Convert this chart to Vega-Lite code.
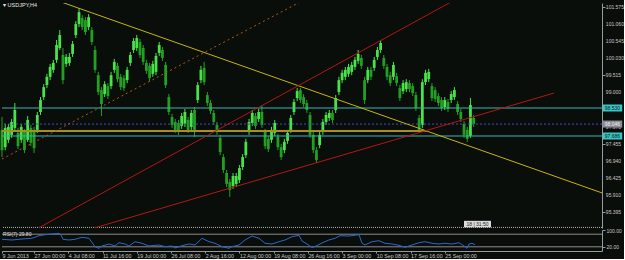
{
"$schema": "https://vega.github.io/schema/vega-lite/v6.json",
"background": "#0a0e0a",
"padding": {"left": 0, "top": 3, "right": 0, "bottom": 0},
"spacing": 2,
"bounds": "flush",
"config": {"view": {"stroke": null}, "axis": {"grid": false, "labelFont": "Liberation Sans", "labelFontSize": 5.3, "labelColor": "#c8c8c8", "domainColor": "#9a9a9a", "tickColor": "#9a9a9a", "tickSize": 3, "labelPadding": 1, "title": null, "labelOverlap": false, "labelBound": false, "labelFlush": false}},
"datasets": {
"candles": [
{"i":0,"o":97.87,"h":98.26,"l":97.05,"c":97.26},
{"i":3,"o":97.35,"h":98.05,"l":97.26,"c":97.93},
{"i":6,"o":97.57,"h":98.05,"l":97.48,"c":97.96},
{"i":9,"o":97.72,"h":98.20,"l":97.63,"c":98.11},
{"i":12,"o":97.93,"h":98.68,"l":97.84,"c":98.47},
{"i":15,"o":97.78,"h":97.93,"l":97.29,"c":97.38},
{"i":18,"o":97.57,"h":98.05,"l":97.48,"c":97.96},
{"i":21,"o":97.81,"h":97.90,"l":97.17,"c":97.26},
{"i":24,"o":97.57,"h":98.29,"l":97.51,"c":98.17},
{"i":27,"o":97.93,"h":98.02,"l":97.38,"c":97.48},
{"i":30,"o":97.87,"h":97.96,"l":97.17,"c":97.32},
{"i":33,"o":97.87,"h":98.41,"l":97.78,"c":98.32},
{"i":36,"o":98.41,"h":98.86,"l":98.32,"c":98.77},
{"i":39,"o":98.86,"h":99.25,"l":98.77,"c":99.16},
{"i":42,"o":99.22,"h":99.56,"l":99.13,"c":99.47},
{"i":45,"o":99.47,"h":99.86,"l":99.37,"c":99.77},
{"i":48,"o":99.68,"h":99.98,"l":99.59,"c":99.89},
{"i":51,"o":99.98,"h":100.58,"l":99.89,"c":100.43},
{"i":54,"o":100.34,"h":100.88,"l":100.28,"c":100.73},
{"i":57,"o":100.13,"h":100.34,"l":99.25,"c":99.37},
{"i":60,"o":99.86,"h":100.16,"l":99.77,"c":100.07},
{"i":63,"o":99.89,"h":100.19,"l":99.80,"c":100.07},
{"i":66,"o":100.16,"h":100.55,"l":100.07,"c":100.46},
{"i":69,"o":100.73,"h":101.15,"l":100.64,"c":101.06},
{"i":72,"o":101.06,"h":101.54,"l":100.97,"c":101.42},
{"i":75,"o":101.24,"h":101.33,"l":100.88,"c":100.97},
{"i":78,"o":101.18,"h":101.27,"l":100.73,"c":100.82},
{"i":81,"o":100.97,"h":101.36,"l":100.88,"c":101.27},
{"i":84,"o":100.88,"h":100.97,"l":100.43,"c":100.52},
{"i":87,"o":100.28,"h":100.40,"l":99.59,"c":99.68},
{"i":90,"o":99.52,"h":99.62,"l":98.92,"c":99.01},
{"i":93,"o":99.07,"h":99.16,"l":98.29,"c":98.65},
{"i":96,"o":98.95,"h":99.34,"l":98.86,"c":99.25},
{"i":99,"o":99.19,"h":99.28,"l":98.80,"c":98.89},
{"i":102,"o":99.19,"h":99.62,"l":99.10,"c":99.52},
{"i":105,"o":99.68,"h":100.01,"l":99.59,"c":99.92},
{"i":108,"o":99.80,"h":99.89,"l":99.31,"c":99.40},
{"i":111,"o":99.47,"h":99.56,"l":99.07,"c":99.16},
{"i":114,"o":99.43,"h":99.52,"l":99.04,"c":99.13},
{"i":117,"o":99.37,"h":99.77,"l":99.28,"c":99.68},
{"i":120,"o":99.89,"h":100.22,"l":99.80,"c":100.13},
{"i":123,"o":100.28,"h":100.64,"l":100.19,"c":100.55},
{"i":126,"o":100.34,"h":100.73,"l":100.25,"c":100.64},
{"i":129,"o":100.52,"h":100.61,"l":100.04,"c":100.13},
{"i":132,"o":100.34,"h":100.43,"l":99.83,"c":99.92},
{"i":135,"o":99.89,"h":99.98,"l":99.56,"c":99.65},
{"i":138,"o":99.80,"h":99.89,"l":99.34,"c":99.43},
{"i":141,"o":99.56,"h":99.95,"l":99.47,"c":99.86},
{"i":144,"o":99.62,"h":100.19,"l":99.52,"c":100.10},
{"i":147,"o":100.19,"h":100.52,"l":100.10,"c":100.43},
{"i":150,"o":100.28,"h":100.37,"l":99.95,"c":100.04},
{"i":153,"o":99.83,"h":99.92,"l":99.13,"c":99.22},
{"i":156,"o":98.86,"h":98.95,"l":98.32,"c":98.41},
{"i":159,"o":98.26,"h":98.35,"l":97.93,"c":98.02},
{"i":162,"o":98.11,"h":98.20,"l":97.78,"c":97.87},
{"i":165,"o":98.08,"h":98.17,"l":97.72,"c":97.81},
{"i":168,"o":97.99,"h":98.38,"l":97.90,"c":98.29},
{"i":171,"o":98.05,"h":98.50,"l":97.96,"c":98.41},
{"i":174,"o":98.17,"h":98.26,"l":97.78,"c":97.87},
{"i":177,"o":97.96,"h":98.47,"l":97.87,"c":98.38},
{"i":180,"o":98.47,"h":98.56,"l":97.66,"c":97.87},
{"i":183,"o":98.77,"h":99.31,"l":98.68,"c":99.22},
{"i":186,"o":99.37,"h":99.80,"l":99.28,"c":99.68},
{"i":189,"o":99.74,"h":99.92,"l":99.22,"c":99.31},
{"i":192,"o":98.92,"h":99.01,"l":98.59,"c":98.68},
{"i":195,"o":98.68,"h":98.77,"l":98.35,"c":98.44},
{"i":198,"o":98.38,"h":98.47,"l":98.02,"c":98.11},
{"i":201,"o":98.02,"h":98.11,"l":97.72,"c":97.81},
{"i":204,"o":97.63,"h":97.72,"l":97.11,"c":97.20},
{"i":207,"o":97.05,"h":97.14,"l":96.57,"c":96.66},
{"i":210,"o":96.57,"h":96.66,"l":96.15,"c":96.24},
{"i":213,"o":96.30,"h":96.39,"l":95.85,"c":96.06},
{"i":216,"o":96.18,"h":96.57,"l":96.09,"c":96.48},
{"i":219,"o":96.24,"h":96.57,"l":96.15,"c":96.48},
{"i":222,"o":96.36,"h":96.81,"l":96.27,"c":96.72},
{"i":225,"o":96.75,"h":97.14,"l":96.66,"c":97.05},
{"i":228,"o":97.11,"h":97.60,"l":97.02,"c":97.51},
{"i":231,"o":97.81,"h":98.20,"l":97.72,"c":98.11},
{"i":234,"o":98.08,"h":98.47,"l":97.99,"c":98.38},
{"i":237,"o":98.29,"h":98.38,"l":97.90,"c":97.99},
{"i":240,"o":98.20,"h":98.50,"l":98.11,"c":98.41},
{"i":243,"o":98.41,"h":98.62,"l":97.93,"c":98.02},
{"i":246,"o":97.81,"h":97.90,"l":97.29,"c":97.38},
{"i":249,"o":97.60,"h":97.69,"l":97.20,"c":97.29},
{"i":252,"o":97.57,"h":97.96,"l":97.48,"c":97.87},
{"i":255,"o":97.78,"h":98.17,"l":97.69,"c":98.08},
{"i":258,"o":97.66,"h":97.75,"l":97.26,"c":97.35},
{"i":261,"o":97.35,"h":97.45,"l":96.96,"c":97.05},
{"i":264,"o":97.26,"h":97.60,"l":97.17,"c":97.51},
{"i":267,"o":97.54,"h":97.87,"l":97.45,"c":97.78},
{"i":270,"o":97.87,"h":98.32,"l":97.78,"c":98.23},
{"i":273,"o":98.41,"h":98.80,"l":98.32,"c":98.71},
{"i":276,"o":98.83,"h":99.13,"l":98.74,"c":99.04},
{"i":279,"o":99.07,"h":99.13,"l":98.68,"c":98.77},
{"i":282,"o":98.86,"h":98.95,"l":98.56,"c":98.65},
{"i":285,"o":98.68,"h":98.77,"l":98.38,"c":98.47},
{"i":288,"o":98.32,"h":98.41,"l":97.63,"c":97.72},
{"i":291,"o":97.72,"h":97.81,"l":97.17,"c":97.26},
{"i":294,"o":97.26,"h":97.35,"l":96.87,"c":96.96},
{"i":297,"o":97.41,"h":97.81,"l":97.32,"c":97.72},
{"i":300,"o":97.81,"h":98.20,"l":97.72,"c":98.11},
{"i":303,"o":98.11,"h":98.41,"l":98.02,"c":98.32},
{"i":306,"o":98.23,"h":98.47,"l":98.14,"c":98.38},
{"i":309,"o":98.38,"h":98.47,"l":98.08,"c":98.17},
{"i":312,"o":98.47,"h":98.92,"l":98.38,"c":98.83},
{"i":315,"o":99.01,"h":99.47,"l":98.92,"c":99.37},
{"i":318,"o":99.37,"h":99.68,"l":99.28,"c":99.59},
{"i":321,"o":99.47,"h":99.77,"l":99.37,"c":99.68},
{"i":324,"o":99.56,"h":99.86,"l":99.47,"c":99.77},
{"i":327,"o":99.62,"h":99.92,"l":99.52,"c":99.83},
{"i":330,"o":99.77,"h":100.07,"l":99.68,"c":99.98},
{"i":333,"o":99.95,"h":100.28,"l":99.86,"c":100.16},
{"i":336,"o":100.04,"h":100.13,"l":99.71,"c":99.80},
{"i":339,"o":99.37,"h":99.47,"l":98.65,"c":98.77},
{"i":342,"o":99.37,"h":99.77,"l":99.28,"c":99.68},
{"i":345,"o":99.68,"h":99.77,"l":99.37,"c":99.47},
{"i":348,"o":99.74,"h":100.07,"l":99.65,"c":99.98},
{"i":351,"o":100.07,"h":100.37,"l":99.98,"c":100.28},
{"i":354,"o":100.28,"h":100.58,"l":100.19,"c":100.49},
{"i":357,"o":100.04,"h":100.13,"l":99.71,"c":99.80},
{"i":360,"o":99.77,"h":99.86,"l":99.37,"c":99.47},
{"i":363,"o":99.52,"h":99.62,"l":99.19,"c":99.28},
{"i":366,"o":99.47,"h":99.92,"l":99.37,"c":99.83},
{"i":369,"o":99.49,"h":99.59,"l":99.19,"c":99.28},
{"i":372,"o":99.13,"h":99.22,"l":98.74,"c":98.83},
{"i":375,"o":99.04,"h":99.37,"l":98.95,"c":99.28},
{"i":378,"o":99.10,"h":99.40,"l":99.01,"c":99.31},
{"i":381,"o":99.28,"h":99.37,"l":99.01,"c":99.10},
{"i":384,"o":99.19,"h":99.28,"l":98.89,"c":98.98},
{"i":387,"o":98.92,"h":99.01,"l":98.44,"c":98.53},
{"i":390,"o":98.23,"h":98.32,"l":97.84,"c":97.87},
{"i":393,"o":98.02,"h":99.40,"l":97.93,"c":99.31},
{"i":396,"o":99.31,"h":99.68,"l":99.22,"c":99.59},
{"i":399,"o":99.40,"h":99.71,"l":99.31,"c":99.62},
{"i":402,"o":99.19,"h":99.28,"l":98.74,"c":98.83},
{"i":405,"o":99.07,"h":99.16,"l":98.71,"c":98.80},
{"i":408,"o":98.89,"h":98.98,"l":98.59,"c":98.68},
{"i":411,"o":98.77,"h":98.86,"l":98.44,"c":98.53},
{"i":414,"o":98.56,"h":98.86,"l":98.47,"c":98.77},
{"i":417,"o":98.71,"h":98.80,"l":98.41,"c":98.50},
{"i":420,"o":98.77,"h":99.04,"l":98.68,"c":98.95},
{"i":423,"o":98.86,"h":99.16,"l":98.77,"c":99.07},
{"i":426,"o":98.65,"h":98.74,"l":98.32,"c":98.41},
{"i":429,"o":98.41,"h":98.50,"l":98.11,"c":98.20},
{"i":432,"o":98.05,"h":98.14,"l":97.63,"c":97.72},
{"i":435,"o":97.87,"h":97.96,"l":97.51,"c":97.60},
{"i":438,"o":97.69,"h":98.83,"l":97.63,"c":98.62},
{"i":441,"o":98.23,"h":98.32,"l":97.96,"c":98.05}
],
"rsi": [
{"i":0,"r":55.7},{"i":9.4,"r":52.4},{"i":18.7,"r":57.1},{"i":28,"r":60.5},{"i":34.6,"r":72.9},{"i":40.2,"r":77.6},{"i":46.8,"r":81.0},{"i":53.3,"r":84.3},{"i":55.2,"r":76.2},{"i":57,"r":55.7},{"i":62.6,"r":52.4},{"i":68.3,"r":55.7},{"i":74.8,"r":65.2},{"i":81.3,"r":60.5},{"i":87,"r":20.5},{"i":90.7,"r":12.9},{"i":93.5,"r":23.8},{"i":100,"r":33.3},{"i":105.7,"r":23.8},{"i":109.4,"r":39.5},{"i":115,"r":33.3},{"i":118.7,"r":23.8},{"i":124.4,"r":44.3},{"i":130.9,"r":36.7},{"i":137.4,"r":23.8},{"i":146.8,"r":28.6},{"i":152.4,"r":20.5},{"i":159,"r":23.8},{"i":161.8,"r":14.3},{"i":168.3,"r":25.2},{"i":174.8,"r":33.3},{"i":180.5,"r":28.6},{"i":187,"r":60.5},{"i":193.5,"r":44.3},{"i":199.2,"r":36.7},{"i":205.7,"r":20.5},{"i":212.2,"r":12.9},{"i":215,"r":20.5},{"i":221.6,"r":28.6},{"i":227.2,"r":52.4},{"i":233.8,"r":71.4},{"i":240.3,"r":60.5},{"i":245.9,"r":36.7},{"i":252.5,"r":33.3},{"i":259,"r":44.3},{"i":264.6,"r":52.4},{"i":271.2,"r":68.1},{"i":277.7,"r":74.8},{"i":280.5,"r":47.6},{"i":285.2,"r":33.3},{"i":289.9,"r":16.7},{"i":293.6,"r":23.8},{"i":299.2,"r":38.1},{"i":305.7,"r":52.4},{"i":311.4,"r":60.5},{"i":316,"r":72.9},{"i":324.5,"r":71.4},{"i":333.8,"r":77.6},{"i":336.6,"r":36.7},{"i":339.4,"r":28.6},{"i":346,"r":44.3},{"i":352.5,"r":49.0},{"i":358.1,"r":36.7},{"i":364.7,"r":33.3},{"i":371.2,"r":27.1},{"i":376.8,"r":17.6},{"i":383.4,"r":28.6},{"i":389.9,"r":39.5},{"i":395.5,"r":44.3},{"i":402.1,"r":36.7},{"i":408.6,"r":33.3},{"i":414.2,"r":36.7},{"i":420.8,"r":33.3},{"i":427.3,"r":39.5},{"i":432.9,"r":20.5},{"i":434.8,"r":12.9},{"i":436.7,"r":33.3},{"i":439.5,"r":36.7},{"i":442.3,"r":29.8}
],
"ticks": [{"v":101.575},{"v":101.06},{"v":100.545},{"v":100.03},{"v":99.515},{"v":99.0},{"v":98.485},{"v":97.97},{"v":97.455},{"v":96.94},{"v":96.425},{"v":95.91},{"v":95.395}]
},
"vconcat": [
{
"width": 600, "height": 225,
"layer": [
{"data": {"name": "candles"}, "mark": {"type": "rule", "strokeWidth": 1},
 "encoding": {
  "x": {"field": "i", "type": "quantitative", "scale": {"domain": [0, 561], "nice": false, "zero": false}, "axis": null},
  "y": {"field": "l", "type": "quantitative", "scale": {"domain": [94.912, 101.696], "nice": false, "zero": false}, "axis": {"orient": "right", "values": [101.575, 101.06, 100.545, 100.03, 99.515, 99.0, 98.485, 97.97, 97.455, 96.94, 96.425, 95.91, 95.395], "labels": false}},
  "y2": {"field": "h"},
  "color": {"condition": {"test": "datum.c >= datum.o", "value": "#4ae24a"}, "value": "#22a022"}}},
{"data": {"name": "candles"}, "mark": {"type": "rule", "strokeWidth": 2.8},
 "encoding": {
  "x": {"field": "i", "type": "quantitative"},
  "y": {"field": "o", "type": "quantitative"},
  "y2": {"field": "c"},
  "color": {"condition": {"test": "datum.c >= datum.o", "value": "#4ae24a"}, "value": "#22a022"}}},
{"data": {"values": [{"p": 98.53}, {"p": 97.686}]}, "mark": {"type": "rule", "color": "#3cb4b4", "strokeWidth": 1},
 "encoding": {"y": {"field": "p", "type": "quantitative"}}},
{"data": {"values": [{"p": 98.046}]}, "mark": {"type": "rule", "color": "#4848d0", "strokeWidth": 1, "strokeDash": [2, 2]},
 "encoding": {"y": {"field": "p", "type": "quantitative"}}},
{"data": {"values": [{"p": 94.93}]}, "mark": {"type": "rule", "color": "#b4b4b4", "strokeWidth": 1, "strokeDash": [1, 1]},
 "encoding": {"y": {"field": "p", "type": "quantitative"}}},
{"data": {"values": [{"i1": 0, "i2": 397, "p": 97.84}]}, "mark": {"type": "rule", "color": "#a8901c", "strokeWidth": 2},
 "encoding": {"x": {"field": "i1", "type": "quantitative"}, "x2": {"field": "i2"}, "y": {"field": "p", "type": "quantitative"}}},
{"data": {"values": [{"i1": 55, "p1": 101.73, "i2": 561, "p2": 95.97}]}, "mark": {"type": "rule", "color": "#c8b40a", "strokeWidth": 1, "clip": true},
 "encoding": {"x": {"field": "i1", "type": "quantitative"}, "x2": {"field": "i2"}, "y": {"field": "p1", "type": "quantitative"}, "y2": {"field": "p2"}}},
{"data": {"values": [{"i1": 0, "p1": 96.99, "i2": 279, "p2": 101.73}]}, "mark": {"type": "rule", "color": "#b0581a", "strokeWidth": 1, "strokeDash": [2, 3], "clip": true},
 "encoding": {"x": {"field": "i1", "type": "quantitative"}, "x2": {"field": "i2"}, "y": {"field": "p1", "type": "quantitative"}, "y2": {"field": "p2"}}},
{"data": {"values": [{"i1": 34, "p1": 94.91, "i2": 420, "p2": 101.73}, {"i1": 86, "p1": 94.91, "i2": 516, "p2": 98.98}]}, "mark": {"type": "rule", "color": "#b41616", "strokeWidth": 1, "clip": true},
 "encoding": {"x": {"field": "i1", "type": "quantitative"}, "x2": {"field": "i2"}, "y": {"field": "p1", "type": "quantitative"}, "y2": {"field": "p2"}}},
{"data": {"values": [{"t": "▾ USDJPY,H4"}]}, "mark": {"type": "text", "align": "left", "baseline": "middle", "font": "Liberation Sans", "fontSize": 5.5, "color": "#e6e6e6"},
 "encoding": {"x": {"datum": 1}, "y": {"datum": 101.635}, "text": {"field": "t"}}},
{"data": {"name": "ticks"}, "mark": {"type": "text", "align": "left", "baseline": "middle", "font": "Liberation Sans", "fontSize": 5, "color": "#c8c8c8"},
 "encoding": {"x": {"datum": 564.6}, "y": {"field": "v", "type": "quantitative"}, "text": {"field": "v", "type": "quantitative", "format": ".3f"}}},
{"data": {"values": [{"p": 98.53}, {"p": 97.686}]}, "mark": {"type": "point", "shape": "M-1,-0.36L1,-0.36L1,0.36L-1,0.36Z", "size": 380, "filled": true, "opacity": 1, "color": "#3cc4c4"},
 "encoding": {"x": {"datum": 570.8}, "y": {"field": "p", "type": "quantitative"}}},
{"data": {"values": [{"p": 98.046}]}, "mark": {"type": "point", "shape": "M-1,-0.36L1,-0.36L1,0.36L-1,0.36Z", "size": 380, "filled": true, "opacity": 1, "color": "#8a8a96"},
 "encoding": {"x": {"datum": 570.8}, "y": {"field": "p", "type": "quantitative"}}},
{"data": {"values": [{"p": 98.53, "t": "98.530"}, {"p": 97.686, "t": "97.686"}]}, "mark": {"type": "text", "align": "center", "baseline": "middle", "font": "Liberation Sans", "fontSize": 5, "color": "#0a1a1a"},
 "encoding": {"x": {"datum": 570.8}, "y": {"field": "p", "type": "quantitative"}, "text": {"field": "t"}}},
{"data": {"values": [{"p": 98.046, "t": "98.046"}]}, "mark": {"type": "text", "align": "center", "baseline": "middle", "font": "Liberation Sans", "fontSize": 5, "color": "#f0f0f0"},
 "encoding": {"x": {"datum": 570.8}, "y": {"field": "p", "type": "quantitative"}, "text": {"field": "t"}}},
{"data": {"values": [{"i": 444.6, "p": 95.03}]}, "mark": {"type": "point", "shape": "M-1,-0.24L1,-0.24L1,0.24L-1,0.24Z", "size": 729, "filled": true, "opacity": 1, "color": "#dcdcdc"},
 "encoding": {"x": {"field": "i", "type": "quantitative"}, "y": {"field": "p", "type": "quantitative"}}},
{"data": {"values": [{"i": 444.6, "p": 95.03, "t": "18 | 31:50"}]}, "mark": {"type": "text", "align": "center", "baseline": "middle", "font": "Liberation Sans", "fontSize": 5, "color": "#202020"},
 "encoding": {"x": {"field": "i", "type": "quantitative"}, "y": {"field": "p", "type": "quantitative"}, "text": {"field": "t"}}}
]
},
{
"width": 600, "height": 21,
"layer": [
{"data": {"values": [{"lv": 80}, {"lv": 20}]}, "mark": {"type": "rule", "color": "#8c8c8c", "strokeWidth": 1},
 "encoding": {"y": {"field": "lv", "type": "quantitative", "scale": {"domain": [0, 100], "nice": false, "zero": false}, "axis": {"orient": "right", "values": [100, 80, 20], "format": ".2f", "labelFontSize": 5}}}},
{"data": {"name": "rsi"}, "mark": {"type": "line", "color": "#2a68cc", "strokeWidth": 1},
 "encoding": {
  "x": {"field": "i", "type": "quantitative", "scale": {"domain": [0, 561], "nice": false, "zero": false}, "axis": {"orient": "bottom", "values": [0, 30, 62, 94, 126, 158, 190, 222, 254, 286, 318, 350, 382, 414], "labelExpr": "datum.value == 0 ? '9 Jun 2013' : ['27 Jun 00:00','4 Jul 08:00','11 Jul 16:00','19 Jul 00:00','26 Jul 08:00','2 Aug 16:00','12 Aug 00:00','19 Aug 08:00','26 Aug 16:00','3 Sep 00:00','10 Sep 08:00','17 Sep 16:00','25 Sep 00:00'][(datum.value - 30) / 32]", "labelAlign": "left", "labelBaseline": "top", "labelDx": 1, "labelPadding": 0, "tickSize": 2}},
  "y": {"field": "r", "type": "quantitative"}}},
{"data": {"values": [{"t": "RSI(7) 29.80"}]}, "mark": {"type": "text", "align": "left", "baseline": "middle", "font": "Liberation Sans", "fontSize": 5, "color": "#e0e0e0"},
 "encoding": {"x": {"datum": 1}, "y": {"datum": 79}, "text": {"field": "t"}}}
]
}
]
}
